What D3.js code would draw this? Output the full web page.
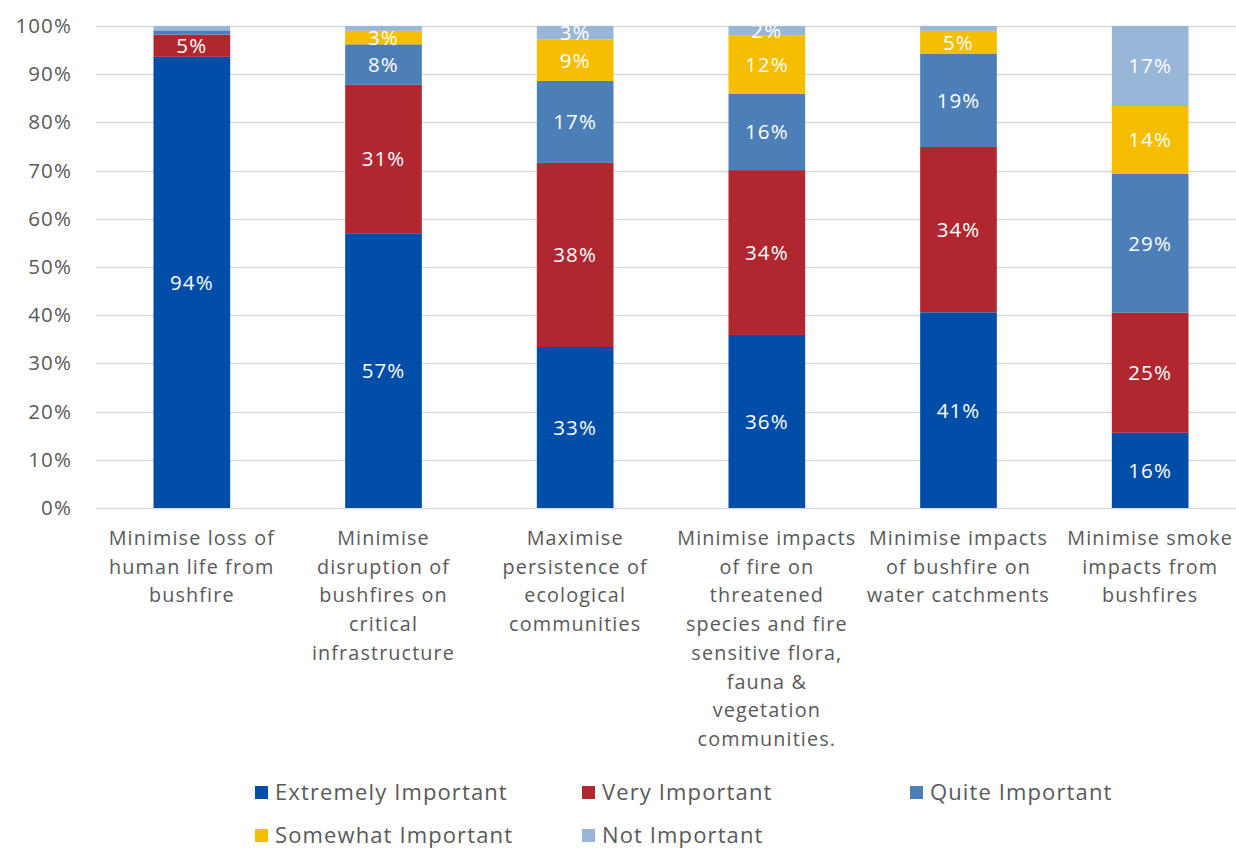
<!DOCTYPE html>
<html>
<head>
<meta charset="utf-8">
<script src="https://cdn.jsdelivr.net/npm/d3@7"></script>
<style>
  html, body { margin: 0; padding: 0; background: #ffffff; }
  svg { display: block; font-family: "Open Sans", "Noto Sans", sans-serif; letter-spacing: 0.07em; }
</style>
</head>
<body>
<svg id="chart" width="1236" height="848"></svg>
<script>
// Survey objectives (each label split into its display lines)
const categories = [
  ["Minimise loss of", "human life from", "bushfire"],
  ["Minimise", "disruption of", "bushfires on", "critical", "infrastructure"],
  ["Maximise", "persistence of", "ecological", "communities"],
  ["Minimise impacts", "of fire on", "threatened", "species and fire", "sensitive flora,", "fauna &", "vegetation", "communities."],
  ["Minimise impacts", "of bushfire on", "water catchments"],
  ["Minimise smoke", "impacts from", "bushfires"]
];

const seriesNames = ["Extremely Important", "Very Important", "Quite Important", "Somewhat Important", "Not Important"];
const seriesColors = ["#004ea8", "#b0272f", "#4c7fb7", "#f5be00", "#97b6d8"];

// Share of responses (%) per objective, one array per rating
const extremely = [93.6, 57.0, 33.4, 35.9, 40.6, 15.6];
const very      = [4.6, 30.8, 38.2, 34.2, 34.3, 24.9];
const quite     = [0.9, 8.4, 17.0, 15.8, 19.4, 28.8];
const somewhat  = [0.0, 2.8, 8.6, 12.2, 4.7, 14.1];
const notImp    = [0.9, 1.0, 2.8, 1.9, 1.0, 16.6];

const yTicks = [0, 10, 20, 30, 40, 50, 60, 70, 80, 90, 100];

const seriesValues = [extremely, very, quite, somewhat, notImp];
const rows = categories.map((c, i) => {
  const r = { idx: i };
  seriesNames.forEach((s, k) => { r[s] = seriesValues[k][i]; });
  return r;
});

const svg = d3.select("#chart");
const plot = { left: 96, right: 1246, top: 26, bottom: 508, gridRight: 1236 };
const textGrey = "#595959";

const x = d3.scaleBand()
  .domain(d3.range(categories.length))
  .range([plot.left, plot.right])
  .paddingInner(0.6)
  .paddingOuter(0.3);

const y = d3.scaleLinear().domain([0, 100]).range([plot.bottom, plot.top]);

// Gridlines
svg.append("g")
  .selectAll("line")
  .data(yTicks)
  .join("line")
  .attr("x1", plot.left)
  .attr("x2", plot.gridRight)
  .attr("y1", d => Math.round(y(d)) + 0.5)
  .attr("y2", d => Math.round(y(d)) + 0.5)
  .attr("stroke", "#d9d9d9")
  .attr("stroke-width", 1.5);

// Y axis labels
const yAxis = d3.axisLeft(y)
  .tickValues(yTicks)
  .tickFormat(d => d + "%")
  .tickSize(0)
  .tickPadding(0);

svg.append("g")
  .attr("transform", "translate(72,0)")
  .call(yAxis)
  .call(g => g.select(".domain").remove())
  .call(g => g.selectAll("text")
    .attr("fill", textGrey)
    .attr("font-size", 20.5)
    .attr("font-family", "'Open Sans', 'Noto Sans', sans-serif"));

// Stacked bars
const stack = d3.stack().keys(seriesNames);
const stacked = stack(rows);

const layers = svg.append("g")
  .selectAll("g")
  .data(stacked)
  .join("g")
  .attr("fill", (d, i) => seriesColors[i]);

layers.selectAll("rect")
  .data(d => d)
  .join("rect")
  .attr("x", d => x(d.data.idx))
  .attr("width", x.bandwidth())
  .attr("y", d => y(d[1]))
  .attr("height", d => y(d[0]) - y(d[1]));

// Value labels inside segments
layers.selectAll("text")
  .data(d => d.map(p => ({ p, v: p[1] - p[0] })))
  .join("text")
  .filter(d => d.v >= 1.5)
  .attr("x", d => x(d.p.data.idx) + x.bandwidth() / 2)
  .attr("y", d => (y(d.p[0]) + y(d.p[1])) / 2)
  .attr("dy", "0.36em")
  .attr("text-anchor", "middle")
  .attr("fill", "#ffffff")
  .attr("font-size", 20.5)
  .text(d => Math.round(d.v) + "%");

// Category labels
const catG = svg.append("g");
categories.forEach((lines, i) => {
  const cx = x(i) + x.bandwidth() / 2;
  const t = catG.append("text")
    .attr("x", cx)
    .attr("y", 545)
    .attr("text-anchor", "middle")
    .attr("fill", textGrey)
    .attr("font-size", 19.8);
  lines.forEach((ln, j) => {
    t.append("tspan")
      .attr("x", cx)
      .attr("y", 545 + j * 28.7)
      .text(ln);
  });
});

// Legend
const legendPos = [
  { x: 255, y: 792 }, { x: 582, y: 792 }, { x: 910, y: 792 },
  { x: 255, y: 835 }, { x: 582, y: 835 }
];
const legend = svg.append("g")
  .selectAll("g")
  .data(seriesNames)
  .join("g")
  .attr("transform", (d, i) => `translate(${legendPos[i].x},${legendPos[i].y})`);

legend.append("rect")
  .attr("x", 0)
  .attr("y", -6)
  .attr("width", 13)
  .attr("height", 13)
  .attr("fill", (d, i) => seriesColors[i]);

legend.append("text")
  .attr("x", 20)
  .attr("y", 0)
  .attr("dy", "0.36em")
  .attr("fill", textGrey)
  .attr("font-size", 22)
  .text(d => d);
</script>
</body>
</html>
